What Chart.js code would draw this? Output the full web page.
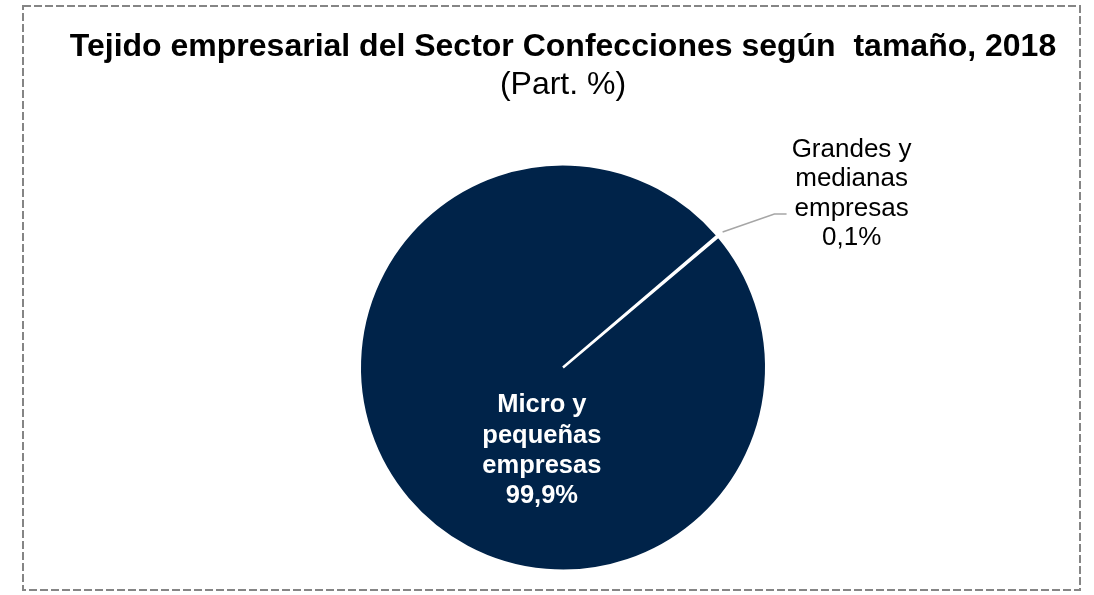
<!DOCTYPE html>
<html>
<head>
<meta charset="utf-8">
<script src="https://cdn.jsdelivr.net/npm/chart.js@4.4.1/dist/chart.umd.min.js"></script>
<style>
  html, body { margin: 0; padding: 0; background: #fff; }
  #wrap { width: 1094px; height: 595px; }
</style>
</head>
<body>
<div id="wrap"><canvas id="pie" width="1094" height="595"></canvas></div>
<script>
// Data
const categories = ['Grandes y medianas empresas', 'Micro y pequeñas empresas'];
const shares = [0.1, 99.9];
const shareLabels = ['0,1%', '99,9%'];
const labelLines = [
  ['Grandes y', 'medianas', 'empresas'],
  ['Micro y', 'pequeñas', 'empresas']
];

const FONT = "'Liberation Sans', Arial, sans-serif";
const navy = '#002349';

// Dashed frame around the whole chart
const framePlugin = {
  id: 'frame',
  beforeDraw(chart) {
    const ctx = chart.ctx;
    ctx.save();
    ctx.strokeStyle = '#858585';
    ctx.lineWidth = 2;
    ctx.setLineDash([8, 3]);
    ctx.strokeRect(23, 6, 1057, 584);
    ctx.restore();
  }
};

// Data labels: inside label for the big slice, outside label + leader line for the small one
const sliceLabels = {
  id: 'sliceLabels',
  afterDatasetsDraw(chart) {
    const ctx = chart.ctx;
    const arcs = chart.getDatasetMeta(0).data;
    ctx.save();
    ctx.textAlign = 'center';
    ctx.textBaseline = 'alphabetic';

    // small slice, outside
    const a = arcs[0];
    const r = a.outerRadius;
    const mid = (a.startAngle + a.endAngle) / 2;
    const sx = a.x + Math.cos(mid) * r * 1.03;
    const sy = a.y + Math.sin(mid) * r * 1.03;
    ctx.strokeStyle = '#a6a6a6';
    ctx.lineWidth = 1.5;
    ctx.beginPath();
    ctx.moveTo(sx, sy);
    ctx.lineTo(a.x + r * 1.04, a.y - r * 0.755);
    ctx.lineTo(a.x + r * 1.10, a.y - r * 0.755);
    ctx.stroke();

    ctx.fillStyle = '#000';
    ctx.font = '26px ' + FONT;
    const l0 = labelLines[0].concat([shareLabels[0]]);
    l0.forEach((t, i) => ctx.fillText(t, a.x + r * 1.42, a.y - r * 1.037 + i * 29.5));

    // big slice, inside
    const b = arcs[1];
    ctx.fillStyle = '#fff';
    ctx.font = 'bold 25.5px ' + FONT;
    const l1 = labelLines[1].concat([shareLabels[1]]);
    l1.forEach((t, i) => ctx.fillText(t, b.x - r * 0.104, b.y + r * 0.22 + i * 30.3));
    ctx.restore();
  }
};

new Chart(document.getElementById('pie'), {
  type: 'pie',
  data: {
    labels: categories,
    datasets: [{
      data: shares,
      backgroundColor: [navy, navy],
      borderColor: '#ffffff',
      borderWidth: 2.5
    }]
  },
  options: {
    responsive: false,
    animation: false,
    rotation: 49.5,
    layout: { padding: { left: 32, right: 0, top: 0, bottom: 23 } },
    plugins: {
      legend: { display: false },
      tooltip: { enabled: false },
      title: {
        display: true,
        text: 'Tejido empresarial del Sector Confecciones según  tamaño, 2018',
        color: '#000',
        font: { family: FONT, size: 32, weight: 'bold', lineHeight: 1.2 },
        padding: { top: 27.7, bottom: 0 }
      },
      subtitle: {
        display: true,
        text: '(Part. %)',
        color: '#000',
        font: { family: FONT, size: 32, weight: 'normal', lineHeight: 1.2 },
        padding: { top: 0, bottom: 58.5 }
      }
    }
  },
  plugins: [framePlugin, sliceLabels]
});
</script>
</body>
</html>
